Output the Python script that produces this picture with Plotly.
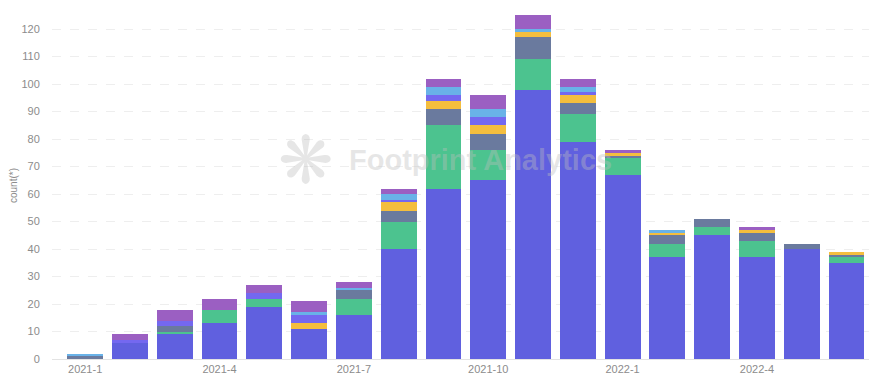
import plotly.graph_objects as go

months = ["2021-1", "2021-2", "2021-3", "2021-4", "2021-5", "2021-6", "2021-7", "2021-8", "2021-9",
          "2021-10", "2021-11", "2021-12", "2022-1", "2022-2", "2022-3", "2022-4", "2022-5", "2022-6"]
tick_labels = ["2021-1", "2021-4", "2021-7", "2021-10", "2022-1", "2022-4"]

s_blue = [0, 6, 9, 13, 19, 11, 16, 40, 62, 65, 98, 79, 67, 37, 45, 37, 40, 35]
s_green = [0, 0, 1, 5, 3, 0, 6, 10, 23, 11, 11, 10, 6, 5, 3, 6, 0, 2]
s_slate = [1, 0, 2, 0, 0, 0, 3, 4, 6, 6, 8, 4, 1, 3, 3, 3, 2, 1]
s_yellow = [0, 0, 0, 0, 0, 2, 0, 3, 3, 3, 2, 3, 1, 1, 0, 1, 0, 1]
s_violet = [0, 1, 2, 0, 2, 3, 0, 1, 2, 3, 0, 1, 0, 0, 0, 0, 0, 0]
s_lightblue = [1, 0, 0, 0, 0, 1, 1, 2, 3, 3, 1, 2, 0, 1, 0, 0, 0, 0]
s_purple = [0, 2, 4, 4, 3, 4, 2, 2, 3, 5, 5, 3, 1, 0, 0, 1, 0, 0]

series = [
    ("s1", s_blue, "#6060DF"),
    ("s2", s_green, "#4CC38F"),
    ("s3", s_slate, "#6A7A9E"),
    ("s4", s_yellow, "#F4BE3E"),
    ("s5", s_violet, "#7468F0"),
    ("s6", s_lightblue, "#69B2E8"),
    ("s7", s_purple, "#9B5FC2"),
]

fig = go.Figure()
for name, vals, color in series:
    fig.add_trace(go.Bar(x=months, y=vals, name=name, marker=dict(color=color, line=dict(width=0)),
                         width=0.8))

fig.update_layout(
    barmode="stack",
    width=877, height=373,
    margin=dict(l=44, r=8, t=4, b=22),
    paper_bgcolor="white", plot_bgcolor="white",
    showlegend=False,
    font=dict(family="Liberation Sans, Arial, sans-serif", color="#8c8c8c", size=11),
)
fig.update_xaxes(
    type="category", categoryorder="array", categoryarray=months,
    range=[-0.74, 17.68], automargin=False,
    tickvals=tick_labels, ticktext=tick_labels,
    showgrid=False, showline=True, linecolor="#e3e3e3", linewidth=1,
    ticks="", tickfont=dict(size=11, color="#8c8c8c"),
)
fig.update_yaxes(
    range=[0, 126.2], dtick=10, tick0=0, automargin=False,
    showgrid=True, gridcolor="#eeeeee", griddash="dash", gridwidth=1,
    zeroline=False, showline=False,
    ticks="outside", ticklen=9, tickcolor="rgba(0,0,0,0)",
    tickfont=dict(size=11, color="#8c8c8c"),
    title=dict(text="count(*)", font=dict(size=10, color="#8c8c8c"), standoff=6),
)

fig.add_annotation(xref="paper", yref="paper", x=0.519, y=0.573, text="<b>Footprint Analytics</b>",
                   showarrow=False, font=dict(size=29, color="rgba(190,190,190,0.38)", family="Liberation Sans, Arial"))
fig.add_annotation(xref="paper", yref="paper", x=0.272, y=0.573, text="❋",
                   showarrow=False, font=dict(size=66, color="rgba(190,190,190,0.38)", family="DejaVu Sans"))

fig.write_html("out.html")
